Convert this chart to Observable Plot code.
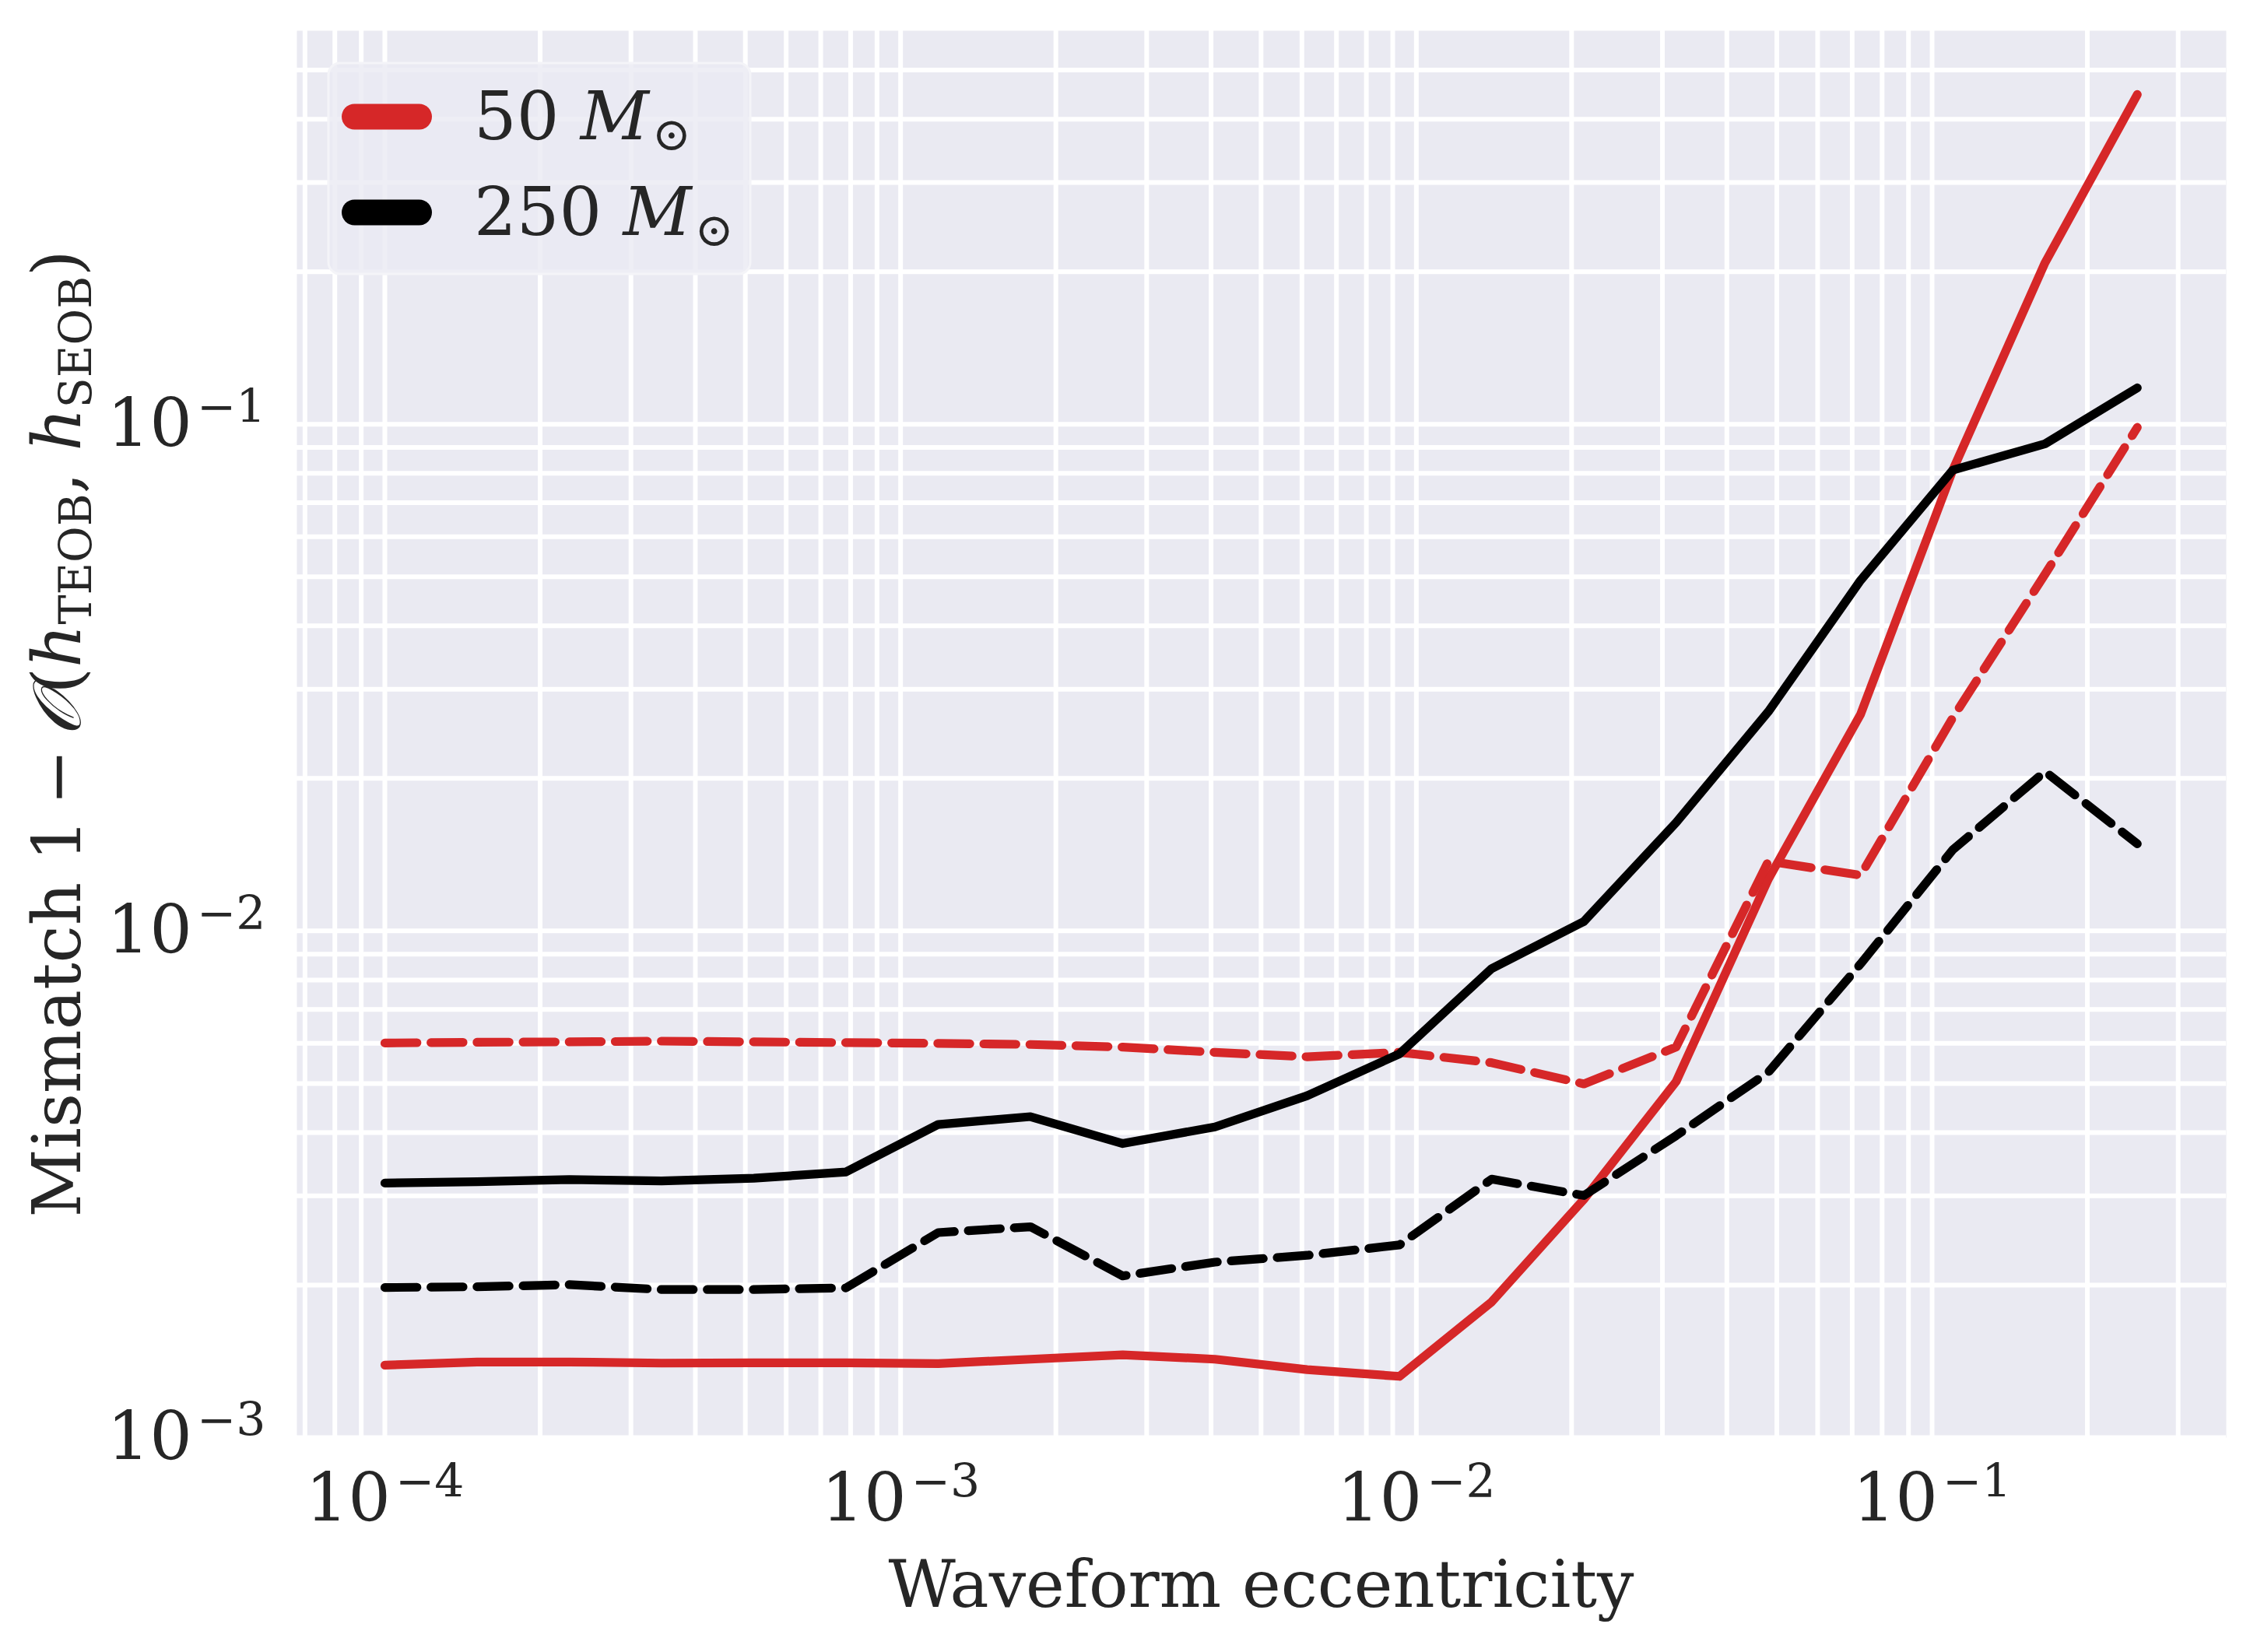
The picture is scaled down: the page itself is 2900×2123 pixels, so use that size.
<!DOCTYPE html>
<html>
<head>
<meta charset="utf-8">
<script src="https://cdn.jsdelivr.net/npm/d3@7"></script>
<script src="https://cdn.jsdelivr.net/npm/@observablehq/plot@0.6"></script>
<style>
  html, body { margin: 0; padding: 0; background: white; }
  #chart svg { display: block; }
</style>
</head>
<body>
<div id="chart"></div>
<script>
// Waveform eccentricity (x)
const ecc = [1.0e-4, 1.510e-4, 2.279e-4, 3.440e-4, 5.193e-4, 7.838e-4, 1.183e-3, 1.786e-3, 2.696e-3, 4.069e-3,
             6.142e-3, 9.273e-3, 1.400e-2, 2.113e-2, 3.190e-2, 4.815e-2, 7.267e-2, 0.1097, 0.1656, 0.25];

// Mismatch values
const m50Solid = [1.39e-3, 1.41e-3, 1.41e-3, 1.403e-3, 1.405e-3, 1.405e-3, 1.40e-3, 1.428e-3, 1.457e-3, 1.428e-3,
                  1.362e-3, 1.321e-3, 1.853e-3, 2.954e-3, 5.045e-3, 1.266e-2, 2.677e-2, 8.12e-2, 0.2084, 0.4475];
const m50Dashed = [6.01e-3, 6.03e-3, 6.04e-3, 6.06e-3, 6.04e-3, 6.02e-3, 6.00e-3, 5.97e-3, 5.90e-3, 5.76e-3,
                   5.645e-3, 5.76e-3, 5.495e-3, 4.99e-3, 5.90e-3, 1.373e-2, 1.288e-2, 2.636e-2, 5.06e-2, 9.86e-2];
const m250Solid = [3.18e-3, 3.20e-3, 3.231e-3, 3.21e-3, 3.25e-3, 3.345e-3, 4.15e-3, 4.30e-3, 3.806e-3, 4.104e-3,
                   4.73e-3, 5.72e-3, 8.43e-3, 1.044e-2, 1.637e-2, 2.71e-2, 4.92e-2, 8.12e-2, 9.15e-2, 0.118];
const m250Dashed = [1.978e-3, 1.985e-3, 2.004e-3, 1.96e-3, 1.96e-3, 1.975e-3, 2.539e-3, 2.607e-3, 2.085e-3, 2.22e-3,
                    2.29e-3, 2.40e-3, 3.238e-3, 3.005e-3, 3.944e-3, 5.264e-3, 8.61e-3, 1.446e-2, 2.063e-2, 1.486e-2];

const legendLabels = ["50", "250"];
const colors = ["#d62728", "#000000"];
const xTicks = [1e-4, 1e-3, 1e-2, 1e-1];
const yTicks = [1e-3, 1e-2, 1e-1];

const xDomain = [Math.pow(10, -4.1705), Math.pow(10, -0.4296)];
const yDomain = [1e-3, Math.pow(10, -0.2233)];

function minorTicks(domain) {
  const out = [];
  for (let e = -6; e <= 1; e++) {
    for (let m = 1; m <= 9; m++) {
      const v = m * Math.pow(10, e);
      if (v >= domain[0] * 0.9999 && v <= domain[1]) out.push(v);
    }
  }
  return out;
}

const toRows = (vals) => ecc.map((e, i) => ({ecc: e, mismatch: vals[i]}));

const lw = 11.2;
const dash = "41.3,17.9";
const chart = Plot.plot({
  width: 2900,
  height: 2123,
  marginLeft: 381,
  marginRight: 40,
  marginTop: 39,
  marginBottom: 276,
  style: {fontFamily: "'DejaVu Serif', serif", fontSize: "86px", color: "#262626", background: "white"},
  x: {type: "log", domain: xDomain},
  y: {type: "log", domain: yDomain},
  marks: [
    Plot.frame({fill: "#eaeaf2", stroke: null}),
    Plot.gridX(minorTicks(xDomain), {stroke: "white", strokeOpacity: 1, strokeWidth: 6}),
    Plot.gridY(minorTicks(yDomain), {stroke: "white", strokeOpacity: 1, strokeWidth: 6}),
    Plot.line(toRows(m50Solid), {x: "ecc", y: "mismatch", stroke: colors[0], strokeWidth: lw, strokeLinecap: "round", strokeLinejoin: "round"}),
    Plot.line(toRows(m50Dashed), {x: "ecc", y: "mismatch", stroke: colors[0], strokeWidth: lw, strokeDasharray: dash, strokeLinejoin: "round"}),
    Plot.line(toRows(m250Solid), {x: "ecc", y: "mismatch", stroke: colors[1], strokeWidth: lw, strokeLinecap: "round", strokeLinejoin: "round"}),
    Plot.line(toRows(m250Dashed), {x: "ecc", y: "mismatch", stroke: colors[1], strokeWidth: lw, strokeDasharray: dash, strokeLinejoin: "round"}),
    Plot.axisX({ticks: xTicks, tickSize: 0, tickPadding: 45, label: null, fontSize: 86,
                tickFormat: d => "10^" + Math.round(Math.log10(d))}),
    Plot.axisY({ticks: yTicks, tickSize: 0, tickPadding: 40, label: null, fontSize: 86,
                tickFormat: d => "10^" + Math.round(Math.log10(d))})
  ]
});

document.getElementById("chart").appendChild(chart);
const svg = d3.select(chart);

// superscript tick labels
svg.selectAll('g[aria-label="x-axis tick label"] text, g[aria-label="y-axis tick label"] text').each(function() {
  const t = this.textContent;
  const m = t.match(/^10\^(-?\d+)$/);
  if (!m) return;
  const sel = d3.select(this);
  sel.text(null);
  sel.append("tspan").text("10");
  sel.append("tspan").attr("font-size", 60).attr("dy", -30).attr("dx", 6)
     .text(m[1].replace("-", "\u2212"));
});

const plotLeft = 381, plotRight = 2860, plotTop = 39, plotBottom = 1847;

// x-axis label
svg.append("text")
  .attr("x", (plotLeft + plotRight) / 2).attr("y", 2065)
  .attr("text-anchor", "middle").attr("font-size", 84).attr("fill", "#262626")
  .text("Waveform eccentricity");

// y-axis label
const yl = svg.append("text")
  .attr("transform", `translate(103,${(plotTop + plotBottom) / 2}) rotate(-90)`)
  .attr("text-anchor", "middle").attr("font-size", 86).attr("fill", "#262626");
yl.append("tspan").text("Mismatch 1\u2009\u2212\u2009");
yl.append("tspan").attr("font-style", "italic").text("\uD835\uDCAA");
yl.append("tspan").text("(");
yl.append("tspan").attr("font-style", "italic").text("h");
yl.append("tspan").attr("font-size", 57).attr("dy", 14).text("TEOB");
yl.append("tspan").attr("dy", -14).text(", ");
yl.append("tspan").attr("font-style", "italic").text("h");
yl.append("tspan").attr("font-size", 57).attr("dy", 14).text("SEOB");
yl.append("tspan").attr("dy", -14).text(")");

// legend
const lg = svg.append("g").attr("aria-label", "legend").attr("text-anchor", "start");
lg.append("rect").attr("x", 422).attr("y", 81).attr("width", 542).attr("height", 271)
  .attr("rx", 15).attr("fill", "#eaeaf2").attr("fill-opacity", 0.8)
  .attr("stroke", "#f4f4f8").attr("stroke-width", 3);
legendLabels.forEach((lab, i) => {
  const cy = 150 + i * 123;
  lg.append("line").attr("x1", 455.5).attr("x2", 538.5).attr("y1", cy).attr("y2", cy)
    .attr("stroke", colors[i]).attr("stroke-width", 33).attr("stroke-linecap", "round");
  const t = lg.append("text").attr("x", 609).attr("y", cy + 28.5)
    .attr("text-anchor", "start").attr("font-size", 86).attr("fill", "#262626");
  t.append("tspan").text(lab + " ");
  t.append("tspan").attr("font-style", "italic").text("M");
  t.append("tspan").attr("font-size", 60).attr("dy", 14).attr("dx", 4).text("\u2299");
});
</script>
</body>
</html>
